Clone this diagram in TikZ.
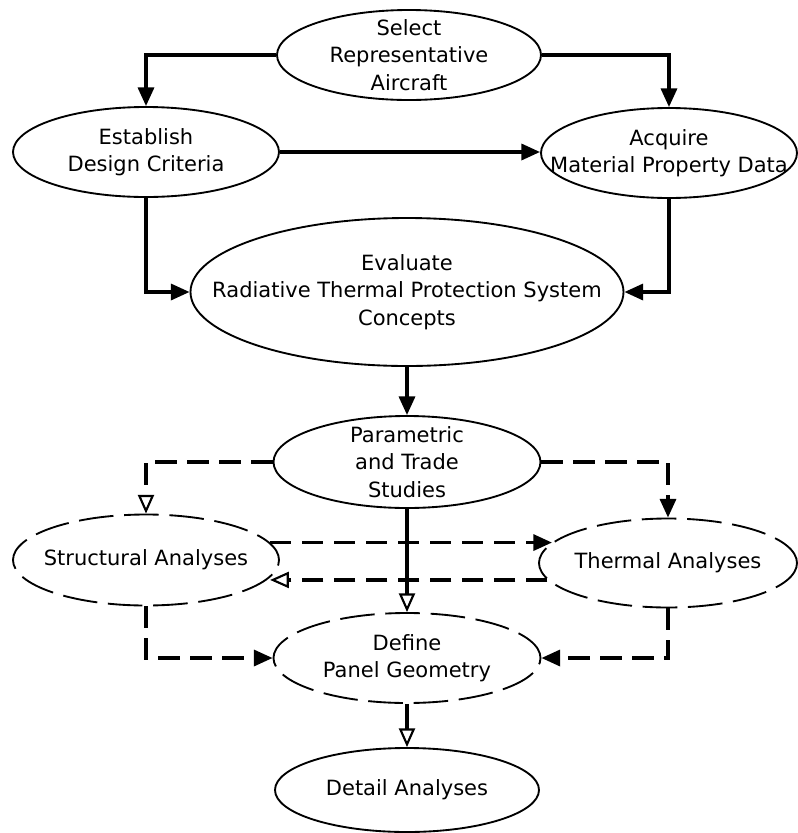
\documentclass[tikz,border=0pt]{standalone}
\usepackage{fontspec}
\setmainfont{DejaVu Sans}
\usetikzlibrary{shapes.geometric,arrows.meta}
\begin{document}
\begin{tikzpicture}[x=0.75pt,y=-0.75pt,
  ell/.style={draw, ellipse, line width=1.4pt, inner sep=0pt},
  dell/.style={ell, dash pattern=on 26pt off 8pt},
  txt/.style={align=center, font=\fontsize{15.75pt}{20.6pt}\selectfont, inner sep=0pt},
  conn/.style={line width=2.5pt, -{Triangle[length=14pt,width=12pt]}},
  oconn/.style={line width=2.5pt, -{Triangle[open,length=14pt,width=12pt,line width=1.6pt]}},
  dconn/.style={conn, dash pattern=on 16pt off 8pt},
  doconn/.style={oconn, dash pattern=on 16pt off 8pt},
]
\useasboundingbox (0,0) rectangle (798,833);

% ellipses
\node[ell, minimum width=198pt, minimum height=67.5pt] (sel) at (409,55) {};
\node[ell, minimum width=199.5pt, minimum height=67.5pt] (est) at (146,152) {};
\node[ell, minimum width=192pt, minimum height=67.5pt] (acq) at (669,153) {};
\node[ell, minimum width=324.75pt, minimum height=111pt] (eval) at (407,292) {};
\node[ell, minimum width=200.25pt, minimum height=69pt] (par) at (407,462) {};
\node[dell, minimum width=199.5pt, minimum height=68.25pt] (str) at (146,560) {};
\node[dell, minimum width=193.5pt, minimum height=66.75pt] (the) at (668,563) {};
\node[dell, minimum width=200.25pt, minimum height=67.5pt] (def) at (407,658) {};
\node[ell, minimum width=198pt, minimum height=63pt] (det) at (407,790) {};

% texts
\node[txt] at (sel) {Select\\Representative\\Aircraft};
\node[txt] at (est) {Establish\\Design Criteria};
\node[txt] at (acq) {Acquire\\Material Property Data};
\node[txt] at (eval) {Evaluate\\Radiative Thermal Protection System\\Concepts};
\node[txt] at (par) {Parametric\\and Trade\\Studies};
\node[txt] at (str) {Structural Analyses};
\node[txt] at (the) {Thermal Analyses};
\node[txt] at (def) {Define\\Panel Geometry};
\node[txt] at (det) {Detail Analyses};

% connectors
\draw[conn] (sel.west) -| (est.north);
\draw[conn] (sel.east) -| (acq.north);
\draw[conn] (est.east) -- (est.east -| acq.west);
\draw[conn] (est.south) |- (eval.west);
\draw[conn] (acq.south) |- (eval.east);
\draw[conn] (eval.south) -- (par.north);
\draw[doconn] (par.west) -| (str.north);
\draw[dconn] (par.east) -| (the.north);
\draw[dconn] (str.8) -- (str.8 -| the.170);
\draw[doconn] (the.188) -- (the.188 -| str.352);
\draw[oconn] (par.south) -- (def.north);
\draw[dconn] (str.south) |- (def.west);
\draw[dconn] (the.south) |- (def.east);
\draw[oconn] (def.south) -- (det.north);
\end{tikzpicture}
\end{document}
